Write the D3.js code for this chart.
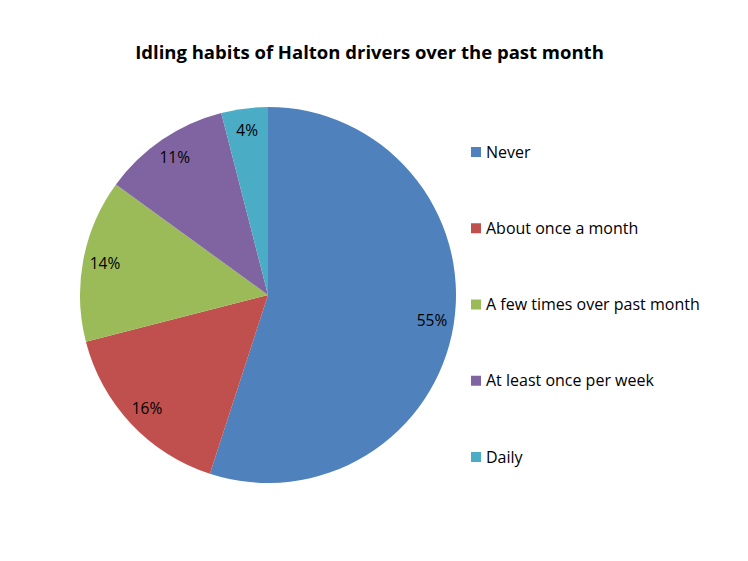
<!DOCTYPE html>
<html><head><meta charset="utf-8">
<script src="https://cdn.jsdelivr.net/npm/d3@7"></script>
<style>body{margin:0;background:#fff;}svg{display:block;}</style>
</head><body>
<script>
const categories = ["Never","About once a month","A few times over past month","At least once per week","Daily"];
const values = [55,16,14,11,4];
const labels = ["55%","16%","14%","11%","4%"];
const colors = ["#4F81BD","#C0504D","#9BBB59","#8064A2","#4BACC6"];

const W=748,H=561;
const svg=d3.select("body").append("svg").attr("width",W).attr("height",H);
const font="'Open Sans', 'Noto Sans', sans-serif";
svg.append("text").attr("x",369.5).attr("y",59).attr("text-anchor","middle")
  .attr("font-family",font).attr("font-weight","bold").attr("font-size",18.5)
  .attr("fill","#000").text("Idling habits of Halton drivers over the past month");

const cx=268,cy=295,r=188;
const pie=d3.pie().sort(null).value(d=>d)(values);
const arc=d3.arc().innerRadius(0).outerRadius(r);
const larc=d3.arc().innerRadius(166).outerRadius(166);
const g=svg.append("g").attr("transform",`translate(${cx},${cy})`);
g.selectAll("path").data(pie).join("path").attr("d",arc).attr("fill",(d,i)=>colors[i]);
g.selectAll("text").data(pie).join("text")
  .attr("transform",d=>`translate(${larc.centroid(d)})`)
  .attr("text-anchor","middle").attr("dy","0.35em")
  .attr("font-family",font).attr("font-size",15.5).attr("fill","#000")
  .text((d,i)=>labels[i]);

const y=d3.scalePoint().domain(categories).range([152,457]);
const lg=svg.append("g");
categories.forEach((c,i)=>{
  lg.append("rect").attr("x",471).attr("y",y(c)-5).attr("width",10).attr("height",10).attr("fill",colors[i]);
  lg.append("text").attr("x",486).attr("y",y(c)).attr("dy","0.35em")
    .attr("font-family",font).attr("font-size",16).attr("fill","#000").text(c);
});
</script>
</body></html>
